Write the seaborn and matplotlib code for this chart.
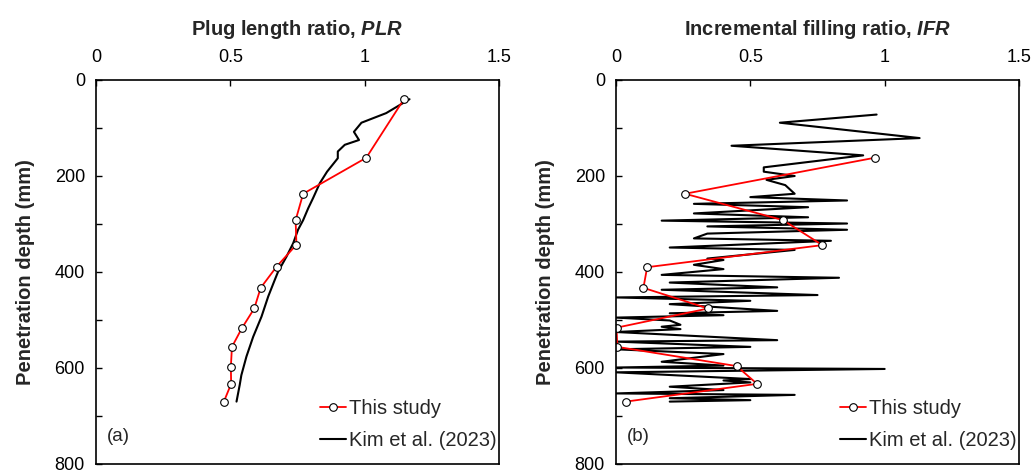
import matplotlib
matplotlib.use("Agg")
import matplotlib.pyplot as plt
import seaborn as sns
import pandas as pd

sns.set_theme(style="ticks")
plt.rcParams['font.family'] = ['Liberation Sans', 'DejaVu Sans']
plt.rcParams['mathtext.fontset'] = 'custom'
plt.rcParams['mathtext.rm'] = 'Liberation Sans'
plt.rcParams['mathtext.it'] = 'Liberation Sans:italic'
plt.rcParams['mathtext.bf'] = 'Liberation Sans:bold'
plt.rcParams['mathtext.bfit'] = 'Liberation Sans:italic:bold'

# ---- data ----
study_depth_plr = [40, 162, 237, 292, 343, 389, 433, 476, 517, 556, 597, 633, 670]
study_plr = [1.146, 1.006, 0.771, 0.743, 0.746, 0.672, 0.613, 0.589, 0.543, 0.506, 0.502, 0.503, 0.476]

kim_depth_plr = [40, 69, 89, 108, 125, 135, 149, 163, 191, 215, 246, 267, 292, 312, 340,
                 368, 399, 417, 451, 493, 535, 576, 615, 635, 670]
kim_plr = [1.167, 1.08, 0.988, 0.96, 0.979, 0.926, 0.90, 0.90, 0.86, 0.833, 0.808, 0.79,
           0.771, 0.752, 0.734, 0.709, 0.678, 0.665, 0.641, 0.616, 0.585, 0.56, 0.541, 0.535, 0.523]

study_depth_ifr = [162, 237, 292, 344, 390, 433, 476, 516, 556, 596, 633, 670]
study_ifr = [0.963, 0.257, 0.622, 0.768, 0.116, 0.102, 0.343, 0.002, 0.005, 0.449, 0.525, 0.037]

kim_depth_ifr = [72, 89, 121, 137, 157, 182, 191, 200, 208, 219, 237, 244, 251, 258, 265, 278,
                 286, 293, 299, 305, 312, 320, 330, 335, 349, 354, 372, 375, 385, 394, 406, 412,
                 422, 432, 437, 448, 453, 460, 467, 481, 486, 490, 495, 501, 510, 514, 519, 525,
                 542, 545, 556, 561, 571, 587, 595, 599, 602, 609, 623, 626, 630, 639, 646, 653,
                 656, 663, 667, 670]
kim_ifr = [0.97, 0.61, 1.13, 0.43, 0.92, 0.55, 0.55, 0.665, 0.56, 0.63, 0.665, 0.50, 0.86, 0.29,
           0.715, 0.29, 0.715, 0.17, 0.86, 0.34, 0.86, 0.34, 0.29, 0.80, 0.20, 0.665, 0.34, 0.40,
           0.29, 0.40, 0.17, 0.83, 0.20, 0.60, 0.17, 0.75, 0.0, 0.50, 0.20, 0.60, 0.20, 0.40, 0.0,
           0.20, 0.24, 0.17, 0.24, 0.0, 0.60, 0.0, 0.50, 0.0, 0.40, 0.17, 0.40, 0.0, 1.0, 0.0, 0.50,
           0.40, 0.50, 0.20, 0.40, 0.0, 0.665, 0.20, 0.50, 0.20]

x_ticks = [0, 0.5, 1, 1.5]
x_tick_labels = ["0", "0.5", "1", "1.5"]
y_ticks = [0, 200, 400, 600, 800]
titles = ["Plug length ratio, $\\bfit{PLR}$", "Incremental filling ratio, $\\bfit{IFR}$"]
panel_labels = ["(a)", "(b)"]
legend_labels = ["This study", "Kim et al. (2023)"]

fig = plt.figure(figsize=(10.35, 4.7), dpi=100)
W, H = 1035, 470
axes = [fig.add_axes([96 / W, 1 - 464 / H, 403 / W, 384 / H]),
        fig.add_axes([616 / W, 1 - 464 / H, 403 / W, 384 / H])]

datasets = [
    (kim_plr, kim_depth_plr, study_plr, study_depth_plr),
    (kim_ifr, kim_depth_ifr, study_ifr, study_depth_ifr),
]

for ax, (kx, ky, sx, sy), title, plabel in zip(axes, datasets, titles, panel_labels):
    kdf = pd.DataFrame({"x": kx, "y": ky})
    sdf = pd.DataFrame({"x": sx, "y": sy})
    sns.lineplot(data=kdf, x="x", y="y", sort=False, estimator=None, ax=ax,
                 color="black", linewidth=1.5, label=legend_labels[1])
    sns.lineplot(data=sdf, x="x", y="y", sort=False, estimator=None, ax=ax,
                 color="red", linewidth=1.3, marker="o", markersize=5.5,
                 markerfacecolor="white", markeredgecolor="black", markeredgewidth=0.8,
                 label=legend_labels[0])
    ax.set_xlim(0, 1.5)
    ax.set_ylim(800, 0)
    ax.set_xticks(x_ticks)
    ax.set_xticklabels(x_tick_labels)
    ax.set_yticks(y_ticks)
    ax.set_yticks([100, 300, 500, 700], minor=True)
    ax.xaxis.tick_top()
    ax.xaxis.set_label_position("top")
    ax.tick_params(axis="both", which="both", direction="in", labelsize=13,
                   length=4, width=1, color="black", labelcolor="black")
    ax.tick_params(axis="x", pad=10)
    ax.tick_params(axis="y", pad=8)
    ax.set_xlabel(title, fontsize=14.5, fontweight="bold", labelpad=10)
    ax.set_ylabel("Penetration depth (mm)", fontsize=14.5, fontweight="bold", labelpad=14)
    for s in ax.spines.values():
        s.set_visible(True)
        s.set_color("black")
        s.set_linewidth(1.2)
    handles, labels = ax.get_legend_handles_labels()
    order = [labels.index(l) for l in legend_labels]
    ax.legend([handles[i] for i in order], [labels[i] for i in order],
              loc="lower right", bbox_to_anchor=(1.03, 0.0), frameon=False,
              fontsize=14.5, handlelength=1.3, handletextpad=0.15,
              borderaxespad=0.3, labelspacing=0.65)
    ax.text(0.028, 0.05, plabel, transform=ax.transAxes, fontsize=13.5,
            ha="left", va="bottom")

fig.savefig("out.png", dpi=100)
